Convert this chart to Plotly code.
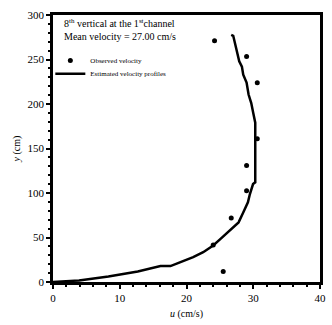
import plotly.graph_objects as go

# Observed velocity
obs_u = [24.2, 29.0, 30.6, 30.6, 29.0, 29.0, 26.7, 24.0, 25.5]
obs_y = [271, 253.5, 224, 161, 131, 102.5, 72, 41.7, 11.9]

# Estimated velocity profile
est_u = [0, 3.9, 8.3, 12.7, 16.1, 17.6, 19.1, 21.0, 22.5, 24.0, 25.1, 27.8, 28.5, 29.2, 29.5,
         29.97, 30.3, 30.3, 30.0, 29.7, 29.3, 29.0, 28.5, 28.3, 27.9, 27.5, 27.2, 27.0, 26.7]
est_y = [0, 1.8, 6.3, 11.9, 17.9, 17.9, 22.4, 28, 33.5, 41, 48.4, 67, 78, 89.5, 98.8,
         110, 112, 179, 190, 201, 210.6, 224, 233, 242, 248, 261, 268.5, 276.6, 277.7]

x_ticks = [0, 10, 20, 30, 40]
y_ticks = [0, 50, 100, 150, 200, 250, 300]

font = "Liberation Serif, Times New Roman, serif"

fig = go.Figure()
fig.add_trace(go.Scatter(x=obs_u, y=obs_y, mode="markers", name="Observed velocity",
                         marker=dict(color="black", size=5, symbol="circle"),
                         legend="legend"))
fig.add_trace(go.Scatter(x=est_u, y=est_y, mode="lines", name="Estimated velocity profiles",
                         line=dict(color="black", width=2.5), legend="legend2"))

axis_common = dict(showgrid=False, zeroline=False, showline=True, linecolor="black",
                   linewidth=2.5, mirror=True, ticks="outside", ticklen=4, tickwidth=2,
                   tickcolor="black", tickfont=dict(family=font, size=11, color="black"))

fig.update_xaxes(range=[0, 40], tickvals=x_ticks,
                 minor=dict(dtick=2, ticks="outside", ticklen=2, tickwidth=2, tickcolor="black"),
                 title=dict(text="<i>u</i> (cm/s)", font=dict(family=font, size=10, color="black"),
                            standoff=8),
                 **axis_common)
fig.update_yaxes(range=[0, 300], tickvals=y_ticks,
                 minor=dict(dtick=10, ticks="outside", ticklen=2, tickwidth=2, tickcolor="black"),
                 title=dict(text="<i>y</i> (cm)", font=dict(family=font, size=10, color="black"),
                            standoff=6),
                 **axis_common)

fig.add_annotation(x=0.035, y=1.0, xref="paper", yref="paper", xanchor="left", yanchor="top",
                   text="8<sup>th</sup> vertical at the 1<sup>st</sup>channel<br>Mean velocity = 27.00 cm/s",
                   showarrow=False, align="left",
                   font=dict(family=font, size=10, color="black"))

leg_common = dict(xanchor="left", yanchor="middle", bgcolor="rgba(0,0,0,0)",
                  font=dict(family=font, size=7, color="black"), itemwidth=30)

fig.update_layout(
    width=332, height=325,
    margin=dict(l=53, r=6, t=15, b=42),
    paper_bgcolor="white", plot_bgcolor="white",
    showlegend=True,
    legend=dict(x=-0.01, y=0.83, **leg_common),
    legend2=dict(x=-0.01, y=0.78, **leg_common),
)

fig.write_html("out.html", config={"displayModeBar": False},
               post_script="document.body.style.margin='0';document.body.style.overflow='hidden';")
